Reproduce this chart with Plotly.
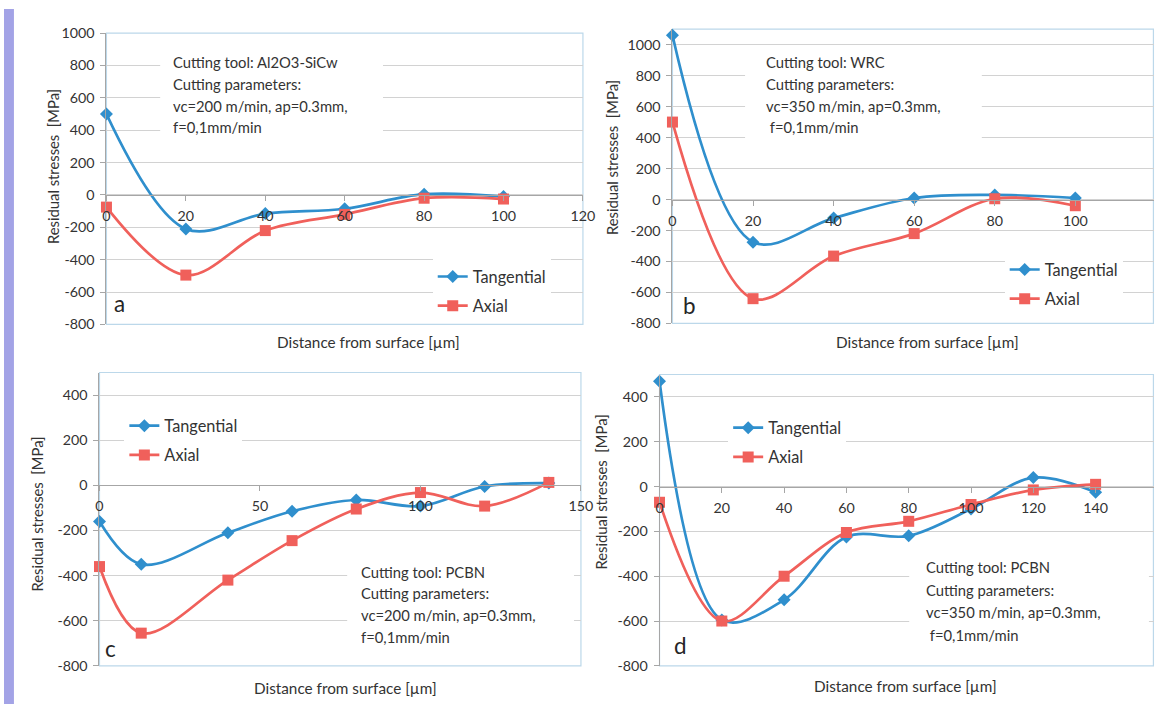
import plotly.graph_objects as go

# ---------------- data ----------------
a_x = [0, 20, 40, 60, 80, 100]
a_tan = [500, -210, -115, -85, 5, -10]
a_ax = [-75, -495, -220, -120, -20, -25]

b_x = [0, 20, 40, 60, 80, 100]
b_tan = [1060, -275, -120, 10, 30, 10]
b_ax = [500, -640, -365, -220, 5, -40]

c_x = [0, 13, 40, 60, 80, 100, 120, 140]
c_tan = [-160, -350, -210, -115, -65, -92, -5, 10]
c_ax = [-360, -655, -420, -245, -105, -32, -92, 13]

d_x = [0, 20, 40, 60, 80, 100, 120, 140]
d_tan = [470, -595, -505, -225, -220, -100, 40, -25]
d_ax = [-70, -600, -400, -205, -155, -80, -15, 10]

y_ticks_ab = [-800, -600, -400, -200, 0, 200, 400, 600, 800, 1000]
y_ticks_cd = [-800, -600, -400, -200, 0, 200, 400]
y_ticktext_ab = ["-800", "-600", "-400", "-200", "0", "200", "400", "600", "800", "1000"]
y_ticktext_cd = ["-800", "-600", "-400", "-200", "0", "200", "400"]

series_names = ["Tangential", "Axial"]
panel_letters = ["a", "b", "c", "d"]
info_texts = [
    ["Cutting tool: Al2O3-SiCw", "Cutting parameters:", "vc=200 m/min, ap=0.3mm,", "f=0,1mm/min"],
    ["Cutting tool: WRC", "Cutting parameters:", "vc=350 m/min, ap=0.3mm,", "\u00a0f=0,1mm/min"],
    ["Cutting tool: PCBN", "Cutting parameters:", "vc=200 m/min, ap=0.3mm,", "f=0,1mm/min"],
    ["Cutting tool: PCBN", "Cutting parameters:", "vc=350 m/min, ap=0.3mm,", "\u00a0f=0,1mm/min"],
]
x_title = "Distance from surface [\u00b5m]"
y_title = "Residual stresses\u00a0\u00a0[MPa]"

# ---------------- layout helpers ----------------
W, H = 1166, 712
# mapping from target picture pixels to figure pixels (compensates the
# slight scaling/offset observed in the rendered picture)
def PX(r):
    return (r + 1) / 0.9915
def PY(r):
    return (r - 9.9) / 0.975
def X(r):
    return min(1.0, max(0.0, PX(r) / W))
def Y(r):
    return min(1.0, max(0.0, 1 - PY(r) / H))
S = 1.02  # font compensation

BLUE = "#2f8fcd"
RED = "#f0605b"
TXT = "#333333"
GRID = "#d2d2d2"
BORDER = "#bcd8ea"
FONT = "Lato, Carlito, 'Open Sans', sans-serif"

panels = [
    dict(x=a_x, tan=a_tan, ax=a_ax, xd=(102, 581), yd=(34, 325), xr=[0, 120], xdt=20, yr=[-800, 1000],
         yt_vals=y_ticks_ab, yt_text=y_ticktext_ab,
         leg=(430, 260), txt=(167, [63, 85, 107, 128]), box=(156, 380, 48, 146),
         letter=(115, 304), yt=(49, 167), xt=(365, 343)),
    dict(x=b_x, tan=b_tan, ax=b_ax, xd=(671, 1157), yd=(30, 324), xr=[0, 120], xdt=20, yr=[-800, 1100],
         yt_vals=y_ticks_ab, yt_text=y_ticktext_ab,
         leg=(1005, 253), txt=(763, [63, 85, 107, 128]), box=(744, 982, 48, 150),
         letter=(688, 306), yt=(610, 158), xt=(927, 343)),
    dict(x=c_x, tan=c_tan, ax=c_ax, xd=(95, 579), yd=(373, 666), xr=[0, 150], xdt=50, yr=[-800, 500],
         yt_vals=y_ticks_cd, yt_text=y_ticktext_cd,
         leg=(120, 409), txt=(356, [572, 593, 615, 637]), box=(344, 572, 556, 652),
         letter=(106, 649), yt=(32, 514), xt=(342, 688)),
    dict(x=d_x, tan=d_tan, ax=d_ax, xd=(658, 1159), yd=(375, 666), xr=[0, 160], xdt=20, yr=[-800, 500],
         yt_vals=y_ticks_cd, yt_text=y_ticktext_cd,
         leg=(727, 411), txt=(924, [567, 590, 612, 635]), box=(909, 1150, 552, 650),
         letter=(679, 646), yt=(599, 492), xt=(905, 686)),
]

fig = go.Figure()
shapes = []
annotations = []
layout = {}

for i, p in enumerate(panels):
    n = "" if i == 0 else str(i + 1)
    xa, ya = "x" + n, "y" + n
    lg = "legend" + n
    for name, vals, col, sym, size in [
        (series_names[0], p["tan"], BLUE, "diamond", 10),
        (series_names[1], p["ax"], RED, "square", 11),
    ]:
        fig.add_trace(go.Scatter(
            x=p["x"], y=vals, name=name, mode="lines+markers",
            line=dict(color=col, width=2.7, shape="spline", smoothing=1),
            marker=dict(symbol=sym, size=size, color=col),
            xaxis=xa, yaxis=ya, legend=lg, legendgroup=name + n,
            cliponaxis=False,
        ))
    xd0, xd1 = p["xd"]
    yd0, yd1 = p["yd"]
    # if the right end of the domain has to be clipped to the figure, shrink the range to match
    xr0, xr1 = p["xr"]
    f_end = PX(xd1)
    if f_end > W:
        r_end = W * 0.9915 - 1
        xr1 = xr0 + (xr1 - xr0) * (r_end - xd0) / (xd1 - xd0)
    ybot, ytop = Y(yd1), Y(yd0)
    y0, y1 = p["yr"]
    zero_pos = ybot + (0 - y0) / (y1 - y0) * (ytop - ybot)
    layout["xaxis" + n] = dict(
        domain=[X(xd0), X(xd1)], range=[xr0, xr1], dtick=p["xdt"], tick0=0,
        anchor="free", position=zero_pos, showgrid=False, zeroline=False,
        showline=True, linecolor="#a6a6a6", linewidth=1,
        ticks="outside", ticklen=5, tickcolor="#a6a6a6",
        tickfont=dict(size=14 * S, color=TXT, family=FONT), ticklabelstandoff=3,
    )
    layout["yaxis" + n] = dict(
        domain=[ybot, ytop], range=p["yr"], tickvals=p["yt_vals"], ticktext=p["yt_text"], anchor=xa,
        showgrid=True, gridcolor=GRID, gridwidth=1, zeroline=False,
        showline=True, linecolor="#a6a6a6", linewidth=1,
        ticks="outside", ticklen=5, tickcolor="#a6a6a6",
        tickfont=dict(size=14 * S, color=TXT, family=FONT), ticklabelstandoff=3,
    )
    layout[lg] = dict(
        x=X(p["leg"][0]), y=Y(p["leg"][1]), xanchor="left", yanchor="top",
        bgcolor="white", borderwidth=0, font=dict(size=16 * S, color=TXT, family=FONT),
        tracegroupgap=5, traceorder="grouped",
    )
    # plot-area border
    shapes.append(dict(type="rect", xref="paper", yref="paper",
                       x0=X(xd0), x1=min(X(xd1), 0.9995), y0=ybot, y1=ytop,
                       line=dict(color=BORDER, width=1.2), layer="below"))
    # white box behind the info text
    bx0, bx1, by0, by1 = p["box"]
    shapes.append(dict(type="rect", xref="paper", yref="paper",
                       x0=X(bx0), x1=X(bx1), y0=Y(by1), y1=Y(by0),
                       fillcolor="white", line=dict(width=0), layer="above"))
    tx, tys = p["txt"]
    for line, ty in zip(info_texts[i], tys):
        annotations.append(dict(text=line, x=X(tx), y=Y(ty), xref="paper", yref="paper",
                                xanchor="left", yanchor="middle", showarrow=False,
                                font=dict(size=14.5 * S, color=TXT, family=FONT)))
    annotations.append(dict(text=panel_letters[i], x=X(p["letter"][0]), y=Y(p["letter"][1]),
                            xref="paper", yref="paper", xanchor="center", yanchor="middle",
                            showarrow=False, font=dict(size=22 * S, color="#262626", family=FONT)))
    annotations.append(dict(text=y_title, x=X(p["yt"][0]), y=Y(p["yt"][1]), xref="paper", yref="paper",
                            xanchor="center", yanchor="middle", textangle=-90, showarrow=False,
                            font=dict(size=14.5 * S, color=TXT, family=FONT)))
    annotations.append(dict(text=x_title, x=X(p["xt"][0]), y=Y(p["xt"][1]), xref="paper", yref="paper",
                            xanchor="center", yanchor="middle", showarrow=False,
                            font=dict(size=15 * S, color=TXT, family=FONT)))

# decorative lavender frame edge on the left (full height)
shapes.append(dict(type="rect", xref="paper", yref="paper", x0=0, x1=X(9), y0=0, y1=1,
                   fillcolor="#a3a3e6", line=dict(width=0), layer="above"))

fig.update_layout(
    width=W, height=H, margin=dict(l=0, r=0, t=0, b=0),
    paper_bgcolor="white", plot_bgcolor="white",
    font=dict(family=FONT, color=TXT),
    showlegend=True, shapes=shapes, annotations=annotations,
    **layout,
)

fig.write_html("out.html", config={"displayModeBar": False},
               post_script="document.body.style.margin='0px';")
